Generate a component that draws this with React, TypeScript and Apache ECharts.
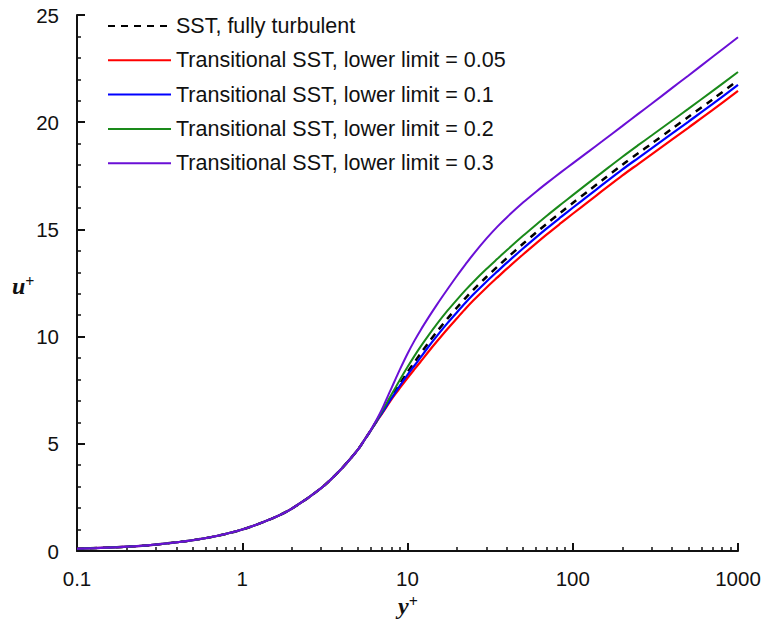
import React, { useEffect, useRef } from "react";
import * as echarts from "echarts";

const yPlus = [0.1, 0.2, 0.3, 0.5, 0.7, 1, 1.5, 2, 3, 4, 5, 5.5, 6, 6.5, 7, 7.5, 8, 8.5, 9, 10, 11, 12, 13.5, 15, 17.5, 20, 22.5, 25, 30, 35, 40, 50, 60, 70, 85, 100, 125, 150, 200, 250, 300, 400, 500, 700, 1000];
const sstFully = [0.1, 0.2, 0.3, 0.5, 0.7, 1.0, 1.5, 1.98, 2.93, 3.85, 4.72, 5.19, 5.63, 6.06, 6.46, 6.84, 7.19, 7.51, 7.81, 8.34, 8.8, 9.21, 9.75, 10.21, 10.85, 11.37, 11.81, 12.18, 12.78, 13.26, 13.67, 14.33, 14.85, 15.28, 15.8, 16.23, 16.81, 17.28, 18.02, 18.56, 19.0, 19.7, 20.24, 21.06, 21.95];
const trans005 = [0.1, 0.2, 0.3, 0.5, 0.7, 1.0, 1.5, 1.98, 2.93, 3.85, 4.72, 5.19, 5.63, 6.03, 6.4, 6.75, 7.07, 7.35, 7.61, 8.07, 8.47, 8.83, 9.33, 9.76, 10.37, 10.87, 11.31, 11.68, 12.28, 12.76, 13.17, 13.83, 14.35, 14.78, 15.3, 15.73, 16.31, 16.78, 17.52, 18.06, 18.5, 19.2, 19.74, 20.56, 21.46];
const trans01 = [0.1, 0.2, 0.3, 0.5, 0.7, 1.0, 1.5, 1.98, 2.93, 3.85, 4.72, 5.19, 5.63, 6.05, 6.43, 6.79, 7.13, 7.43, 7.71, 8.21, 8.64, 9.03, 9.56, 10.01, 10.64, 11.15, 11.59, 11.96, 12.56, 13.04, 13.45, 14.11, 14.63, 15.06, 15.58, 16.01, 16.59, 17.06, 17.8, 18.34, 18.78, 19.48, 20.02, 20.84, 21.74];
const trans02 = [0.1, 0.2, 0.3, 0.5, 0.7, 1.0, 1.5, 1.98, 2.93, 3.85, 4.72, 5.19, 5.63, 6.08, 6.51, 6.92, 7.3, 7.65, 7.99, 8.58, 9.09, 9.53, 10.09, 10.57, 11.22, 11.74, 12.18, 12.55, 13.15, 13.63, 14.04, 14.7, 15.22, 15.65, 16.17, 16.6, 17.18, 17.65, 18.39, 18.94, 19.38, 20.08, 20.62, 21.45, 22.34];
const trans03 = [0.1, 0.2, 0.3, 0.5, 0.7, 1.0, 1.5, 1.98, 2.93, 3.85, 4.72, 5.19, 5.65, 6.12, 6.6, 7.12, 7.6, 8.05, 8.47, 9.2, 9.8, 10.3, 10.93, 11.47, 12.22, 12.85, 13.38, 13.84, 14.57, 15.13, 15.57, 16.25, 16.76, 17.17, 17.67, 18.08, 18.64, 19.1, 19.83, 20.4, 20.86, 21.6, 22.17, 23.04, 23.96];

const seriesNames = [
  "SST, fully turbulent",
  "Transitional SST, lower limit = 0.05",
  "Transitional SST, lower limit = 0.1",
  "Transitional SST, lower limit = 0.2",
  "Transitional SST, lower limit = 0.3",
];
const xMajorTicks = [0.1, 1, 10, 100, 1000];
const xMinorTicks = [
  0.2, 0.3, 0.4, 0.5, 0.6, 0.7, 0.8, 0.9,
  2, 3, 4, 5, 6, 7, 8, 9,
  20, 30, 40, 50, 60, 70, 80, 90,
  200, 300, 400, 500, 600, 700, 800, 900,
];

const FONT = "'Liberation Sans', Arial, Helvetica, sans-serif";
const SERIF = "'Liberation Serif', 'Times New Roman', serif";

export default function App() {
  const ref = useRef<HTMLDivElement>(null);
  useEffect(() => {
    if (!ref.current) return;
    const chart = echarts.init(ref.current, undefined, { renderer: "svg" });
    const pairs = (ys: number[]) => yPlus.map((x, i) => [x, ys[i]]);
    const styles = [
      { color: "#000000", width: 2.5, type: [7, 6] as any },
      { color: "#ff0000", width: 2.2, type: "solid" },
      { color: "#0000ff", width: 2.2, type: "solid" },
      { color: "#1a8a1a", width: 2, type: "solid" },
      { color: "#6a0fd6", width: 2, type: "solid" },
    ];
    const data = [sstFully, trans005, trans01, trans02, trans03];
    const axisName = (t: string) => ({
      text: `{b|${t}}{s|+}`,
      rich: {
        b: { fontFamily: SERIF, fontStyle: "italic", fontWeight: "bold", fontSize: 24, fill: "#111" },
        s: { fontFamily: SERIF, fontWeight: "bold", fontSize: 16, fill: "#111", verticalAlign: "top", padding: [0, 0, 10, 0] },
      },
    });
    chart.setOption({
      animation: false,
      backgroundColor: "#ffffff",
      grid: { left: 77, right: 27, top: 15, bottom: 73, containLabel: false },
      legend: {
        orient: "vertical",
        left: 107,
        top: 15,
        padding: 0,
        itemWidth: 63,
        itemHeight: 14,
        itemGap: 12.3,
        itemStyle: { opacity: 0 },
        textStyle: { fontFamily: FONT, fontSize: 21.5, color: "#111", lineHeight: 22 },
        data: seriesNames,
      },
      xAxis: [
        {
          type: "log",
          logBase: 10,
          min: 0.1,
          max: 1000,
          axisLine: { show: true, lineStyle: { color: "#111", width: 2 } },
          axisTick: { show: true, inside: true, length: 8, lineStyle: { color: "#111", width: 2 }, customValues: xMajorTicks },
          axisLabel: {
            show: true,
            margin: 17,
            fontFamily: FONT,
            fontSize: 20.5,
            color: "#111",
            customValues: xMajorTicks,
            formatter: (v: number) => String(v),
          },
          splitLine: { show: false },
        },
        {
          type: "log",
          logBase: 10,
          min: 0.1,
          max: 1000,
          position: "bottom",
          axisLine: { show: false },
          axisTick: { show: true, inside: true, length: 4, lineStyle: { color: "#111", width: 1.5 }, customValues: xMinorTicks },
          axisLabel: { show: false },
          splitLine: { show: false },
        },
      ],
      yAxis: {
        type: "value",
        min: 0,
        max: 25,
        interval: 5,
        axisLine: { show: true, lineStyle: { color: "#111", width: 2 } },
        axisTick: { show: true, inside: true, length: 8, lineStyle: { color: "#111", width: 2 } },
        minorTick: { show: true, splitNumber: 5, length: 4, lineStyle: { color: "#111", width: 1.5 } },
        axisLabel: { margin: 18, fontFamily: FONT, fontSize: 20.5, color: "#111" },
        splitLine: { show: false },
      },
      graphic: [
        { type: "text", left: 12, top: 273, style: axisName("u") },
        { type: "text", left: 398, top: 593, style: axisName("y") },
      ],
      series: data.map((ys, i) => ({
        name: seriesNames[i],
        type: "line",
        xAxisIndex: 0,
        data: pairs(ys),
        showSymbol: false,
        symbol: "none",
        smooth: 0.3,
        lineStyle: styles[i],
        itemStyle: { color: styles[i].color },
        z: 2 + i,
      })),
    });
    return () => chart.dispose();
  }, []);
  return (
    <div
      ref={ref}
      style={{ position: "fixed", left: 0, top: 0, width: 765, height: 624, background: "#fff" }}
    />
  );
}
